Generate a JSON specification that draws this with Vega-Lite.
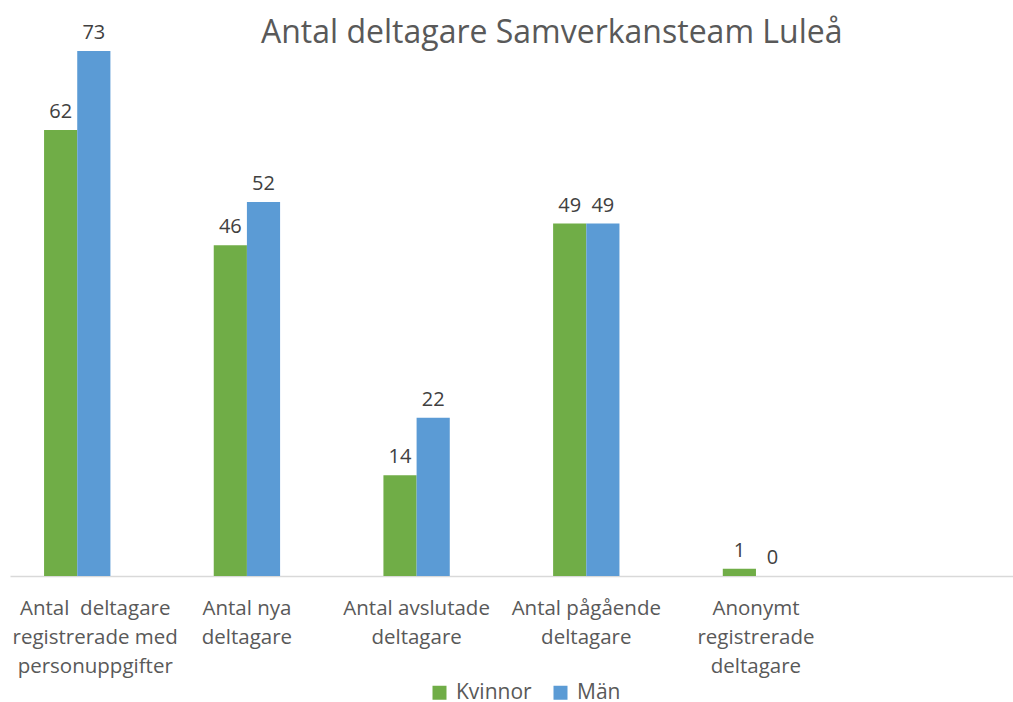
{
  "$schema": "https://vega.github.io/schema/vega-lite/v6.json",
  "autosize": "none",
  "width": 1003,
  "height": 525,
  "padding": {"left": 10, "top": 51, "right": 0, "bottom": 126},
  "background": "white",
  "title": {
    "text": "Antal deltagare Samverkansteam Luleå",
    "font": "Open Sans",
    "fontSize": 32,
    "fontWeight": "normal",
    "color": "#595959",
    "anchor": "start",
    "dx": 251,
    "offset": -27
  },
  "data": {
    "values": [
      {"kategori": "Antal \u00a0deltagare|registrerade med|personuppgifter", "kon": "Kvinnor", "antal": 62},
      {"kategori": "Antal \u00a0deltagare|registrerade med|personuppgifter", "kon": "Män", "antal": 73},
      {"kategori": "Antal nya|deltagare", "kon": "Kvinnor", "antal": 46},
      {"kategori": "Antal nya|deltagare", "kon": "Män", "antal": 52},
      {"kategori": "Antal avslutade|deltagare", "kon": "Kvinnor", "antal": 14},
      {"kategori": "Antal avslutade|deltagare", "kon": "Män", "antal": 22},
      {"kategori": "Antal pågående|deltagare", "kon": "Kvinnor", "antal": 49},
      {"kategori": "Antal pågående|deltagare", "kon": "Män", "antal": 49},
      {"kategori": "Anonymt|registrerade|deltagare", "kon": "Kvinnor", "antal": 1},
      {"kategori": "Anonymt|registrerade|deltagare", "kon": "Män", "antal": 0}
    ]
  },
  "encoding": {
    "x": {
      "field": "kategori",
      "type": "nominal",
      "sort": null,
      "scale": {
        "domain": [
          "Antal \u00a0deltagare|registrerade med|personuppgifter",
          "Antal nya|deltagare",
          "Antal avslutade|deltagare",
          "Antal pågående|deltagare",
          "Anonymt|registrerade|deltagare",
          " "
        ],
        "paddingInner": 0.609,
        "paddingOuter": 0.26,
        "align": 0.386
      },
      "axis": {
        "title": null,
        "labelAngle": 0,
        "labelExpr": "split(datum.label, '|')",
        "labelFont": "Open Sans",
        "labelFontSize": 20.5,
        "labelColor": "#595959",
        "labelLineHeight": 29,
        "labelPadding": 22,
        "labelBaseline": "top",
        "labelOffset": {"expr": "indexof(datum.value, 'personuppgifter') >= 0 ? 18 : 0"},
        "labelLimit": 300,
        "ticks": false,
        "domainColor": "#d9d9d9",
        "domainWidth": 1.5,
        "grid": false
      }
    },
    "xOffset": {"field": "kon", "type": "nominal", "sort": ["Kvinnor", "Män"]},
    "y": {
      "field": "antal",
      "type": "quantitative",
      "scale": {"domain": [0, 73], "nice": false},
      "axis": null
    }
  },
  "layer": [
    {
      "mark": {"type": "bar"},
      "encoding": {
        "color": {
          "field": "kon",
          "type": "nominal",
          "sort": ["Kvinnor", "Män"],
          "scale": {"domain": ["Kvinnor", "Män"], "range": ["#70AD47", "#5B9BD5"]},
          "legend": {
            "title": null,
            "orient": "none",
            "legendX": 419,
            "legendY": 631,
            "direction": "horizontal",
            "padding": 0,
            "symbolType": "square",
            "symbolSize": 196,
            "symbolStrokeWidth": 0,
            "symbolOpacity": 1,
            "labelFont": "Open Sans",
            "labelFontSize": 21,
            "labelColor": "#595959",
            "labelOffset": 6,
            "columnPadding": 18
          }
        }
      }
    },
    {
      "mark": {"type": "text", "dy": -18, "font": "Open Sans", "fontSize": 20, "color": "#404040"},
      "encoding": {
        "text": {"field": "antal", "type": "quantitative"}
      }
    }
  ],
  "config": {
    "view": {"stroke": null}
  }
}
